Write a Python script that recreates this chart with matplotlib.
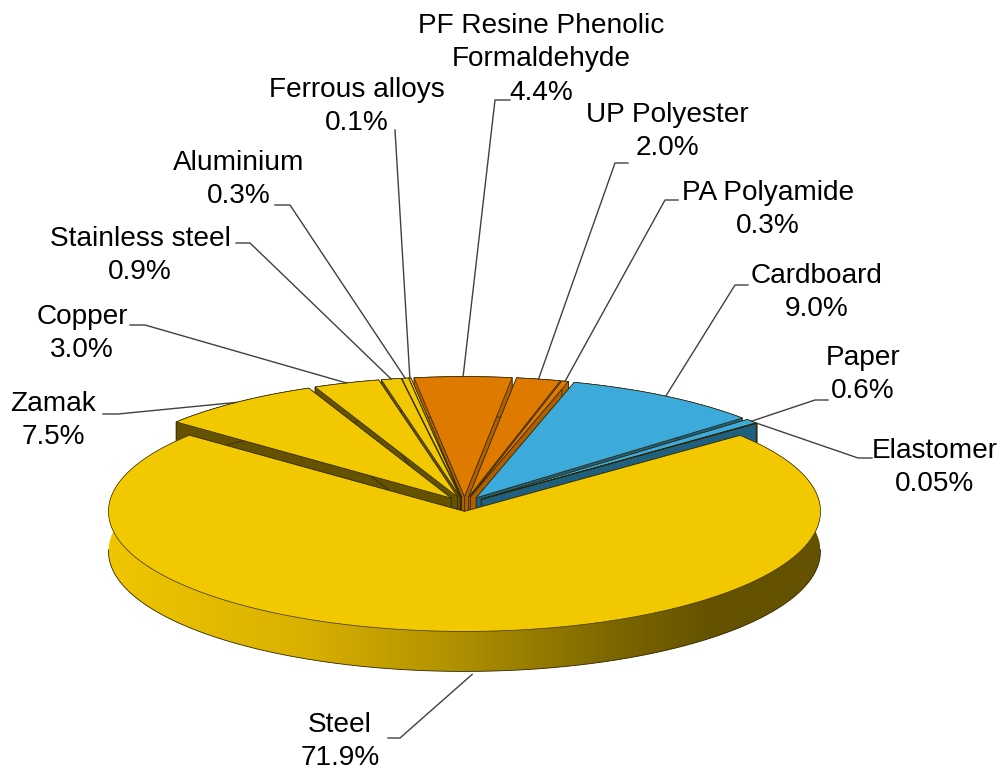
import numpy as np
import matplotlib
matplotlib.use("Agg")
import matplotlib.pyplot as plt
from matplotlib.colors import LinearSegmentedColormap
from matplotlib.patches import Polygon

plt.rcParams['font.family'] = ['Liberation Sans', 'DejaVu Sans']

# values, clockwise starting from steel
names = ["Steel", "Zamak", "Copper", "Stainless steel", "Aluminium", "Ferrous alloys",
         "PF Resine Phenolic\nFormaldehyde", "UP Polyester", "PA Polyamide",
         "Cardboard", "Paper", "Elastomer"]
values = [71.9, 7.5, 3.0, 0.9, 0.3, 0.1, 4.4, 2.0, 0.3, 9.0, 0.6, 0.05]
value_text = ["71.9%", "7.5%", "3.0%", "0.9%", "0.3%", "0.1%", "4.4%", "2.0%", "0.3%",
              "9.0%", "0.6%", "0.05%"]
groups = ["metal", "metal", "metal", "metal", "metal", "metal",
          "plastic", "plastic", "plastic", "paper", "paper", "paper"]

# colours: top, cut face
top_col = {"metal": "#f2c800", "plastic": "#de7a00", "paper": "#3cabdc"}
face_col = {"metal": "#645200", "plastic": "#b05f00", "paper": "#1f5f80"}

# layout in pixels
cx, cy = 464.5, 504
rx, ry = 356, 120
depth = 40
explode = 22
squash = ry / rx

# label centre x and y of the first line
label_x = [340, 53, 82, 140, 239, 357, 541, 667, 768, 817, 863, 935]
label_y = [725, 404, 317, 239, 163, 90, 26, 115, 193, 276, 358, 451]
# leader: text end, elbow
lead_a = [(388, 738), (103, 414), (130, 325), (236, 243), (275, 205), (395, 130),
          (510, 100), (628, 163), (678, 200), (748, 285), (828, 400), (872, 458)]
lead_b = [(400, 738), (118, 414), (145, 325), (250, 243), (290, 205), (395, 130),
          (495, 100), (615, 163), (665, 200), (735, 285), (815, 400), (858, 458)]

side_cmap = LinearSegmentedColormap.from_list(
    "side", [(0, "#f0c600"), (0.28, "#d8b000"), (0.5, "#ae8f00"),
             (0.7, "#7f6800"), (0.85, "#645200"), (1, "#645200")])

fig = plt.figure(figsize=(10, 7.71), dpi=100)
ax = fig.add_axes([0, 0, 1, 1])
ax.axis("off")

vals = np.array(values)
sweep = vals / vals.sum() * 360
# steel is centred on the bottom, going clockwise
starts = 39.3 - np.concatenate([[0], np.cumsum(sweep)[:-1]])
ends = starts - sweep
mids = ((starts + ends) / 2) % 360
edge = "#2e2600"


def rim(a0, a1, ox, oy, n=200):
    t = np.radians(np.linspace(a0, a1, n))
    return ox + rx * np.cos(t), oy - ry * np.sin(t)


def draw_slice(i, z):
    m = np.radians(mids[i])
    ox = cx + explode * np.cos(m)
    oy = cy - explode * squash * np.sin(m)
    g = groups[i]
    x, y = rim(starts[i], ends[i], ox, oy, max(int(sweep[i] * 3), 4))
    # cut faces
    for k in (0, -1):
        ax.fill([ox, x[k], x[k], ox], [oy, y[k], y[k] + depth, oy + depth],
                fc=face_col[g], ec=edge, lw=0.5, zorder=z)
    # outer wall
    if names[i] == "Steel":
        # shaded from left to right
        grad = np.linspace(0, 1, 512).reshape(1, -1)
        img = ax.imshow(grad, cmap=side_cmap, extent=(ox - rx, ox + rx, 771, 0),
                        aspect="auto", zorder=z)
        wall = Polygon(np.c_[np.r_[x, x[::-1]], np.r_[y, y[::-1] + depth]],
                       transform=ax.transData)
        img.set_clip_path(wall)
        front = y >= oy - 2
        ax.plot(x[front], y[front] + depth, color=edge, lw=0.6, zorder=z)
    else:
        ax.fill(np.r_[x, x[::-1]], np.r_[y, y[::-1] + depth],
                fc=face_col[g], ec=edge, lw=0.5, zorder=z)
    # top
    ax.fill(np.r_[ox, x], np.r_[oy, y], fc=top_col[g], ec=edge, lw=0.5, zorder=z + 0.5)


# back slices first, spreading outwards, steel on top of everything
order = np.argsort(np.abs(mids[1:] - 90)) + 1
for n, i in enumerate(order):
    draw_slice(i, 2 + n)
draw_slice(0, 50)

# labels and leaders
for i in range(len(names)):
    m = np.radians(mids[i])
    ox = cx + explode * np.cos(m)
    oy = cy - explode * squash * np.sin(m)
    ex = ox + rx * np.cos(m)
    ey = oy - ry * np.sin(m)
    if names[i] == "Steel":
        ex += 8
        ey += depth + 3
    ax.plot([lead_a[i][0], lead_b[i][0], ex], [lead_a[i][1], lead_b[i][1], ey],
            color="#404040", lw=1.0, zorder=60)
    line_h = 33.3
    txt = names[i].split("\n") + [value_text[i]]
    for k, t in enumerate(txt):
        ax.text(label_x[i], label_y[i] + k * line_h, t, ha="center", va="center",
                fontsize=20.2, color="black", zorder=70)

ax.set_xlim(0, 1000)
ax.set_ylim(771, 0)
fig.savefig("out.png", dpi=100)
